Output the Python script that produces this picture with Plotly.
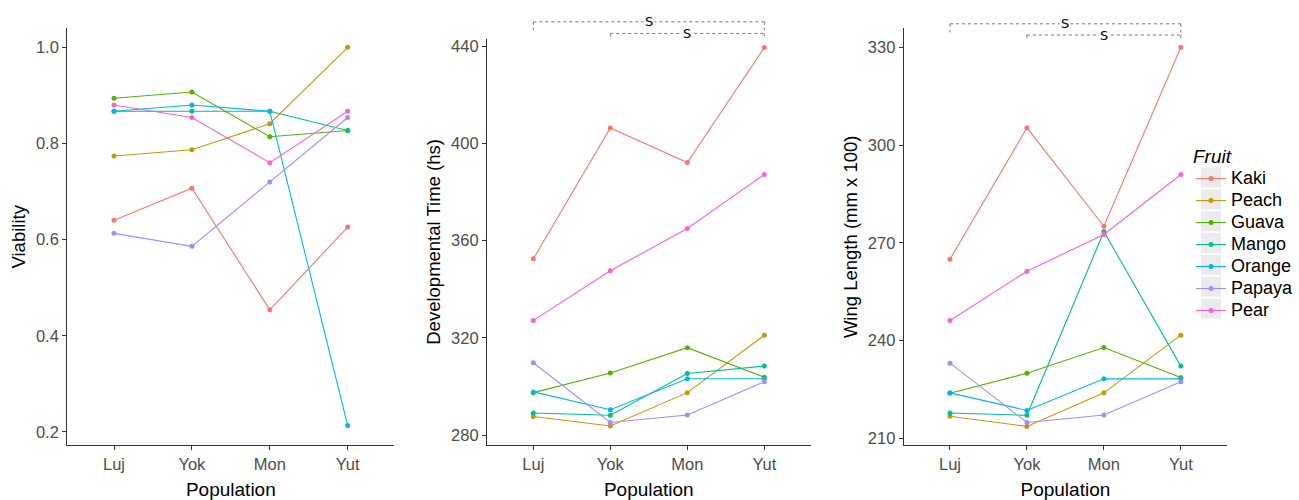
import plotly.graph_objects as go

populations = ["Luj", "Yok", "Mon", "Yut"]
fruits = ["Kaki", "Peach", "Guava", "Mango", "Orange", "Papaya", "Pear"]
colors = ["#F8766D", "#C49A00", "#53B400", "#00C094", "#00B6EB", "#A58AFF", "#FB61D7"]

viability = {
    "Kaki":   [0.640, 0.707, 0.454, 0.626],
    "Peach":  [0.774, 0.787, 0.841, 1.000],
    "Guava":  [0.894, 0.907, 0.814, 0.827],
    "Mango":  [0.867, 0.867, 0.867, 0.827],
    "Orange": [0.867, 0.880, 0.867, 0.213],
    "Papaya": [0.613, 0.586, 0.720, 0.854],
    "Pear":   [0.880, 0.854, 0.760, 0.867],
}
dev_time = {
    "Kaki":   [352.5, 406.3, 392.1, 439.4],
    "Peach":  [287.7, 283.8, 297.5, 321.1],
    "Guava":  [297.5, 305.6, 316.0, 303.8],
    "Mango":  [289.1, 288.2, 305.4, 308.4],
    "Orange": [297.8, 290.5, 303.2, 303.2],
    "Papaya": [309.8, 285.2, 288.3, 302.0],
    "Pear":   [327.2, 347.6, 365.0, 387.2],
}
wing_length = {
    "Kaki":   [265.0, 305.3, 275.1, 330.0],
    "Peach":  [216.8, 213.7, 224.0, 241.7],
    "Guava":  [223.9, 230.0, 237.9, 228.7],
    "Mango":  [217.8, 217.1, 273.5, 232.2],
    "Orange": [224.0, 218.6, 228.3, 228.3],
    "Papaya": [233.1, 214.9, 217.2, 227.4],
    "Pear":   [246.2, 261.3, 272.6, 291.0],
}
viab_ticks = [0.2, 0.4, 0.6, 0.8, 1.0]
dev_ticks = [280, 320, 360, 400, 440]
wing_ticks = [210, 240, 270, 300, 330]
comparisons = [("Luj", "Yut"), ("Yok", "Yut")]
sig_label = "S"

W, H = 1299, 500
FONT = "Liberation Sans, Arial, sans-serif"
LEG_ENTRY_PX = 18

fig = go.Figure()
panels = [
    (viability, "x", "y", "Viability"),
    (dev_time, "x2", "y2", "Developmental Time (hs)"),
    (wing_length, "x3", "y3", "Wing Length (mm x 100)"),
]
for pi, (data, xa, ya, _) in enumerate(panels):
    for f, c in zip(fruits, colors):
        fig.add_trace(go.Scatter(
            x=populations, y=data[f], mode="lines+markers",
            name=f'<span style="font-size:{LEG_ENTRY_PX}px">{f}</span>',
            hovertext=f, hoverinfo="x+y+text",
            line=dict(color=c, width=1.1), marker=dict(color=c, size=5),
            xaxis=xa, yaxis=ya, legendgroup=f, showlegend=(pi == 0),
        ))

def px_x(p):
    return p / W

def px_y(p):
    return 1 - p / H

# panel geometry in pixels
geo = [
    dict(x0=67.3, x1=394.4, top=26.7, rng=[0.1724, 1.0392], ticks=viab_ticks, fmt=".1f"),
    dict(x0=487.1, x1=810.5, top=37.0, rng=[275.92, 443.0], ticks=dev_ticks, fmt="d"),
    dict(x0=903.8, x1=1227.0, top=26.7, rng=[207.96, 335.78], ticks=wing_ticks, fmt="d"),
]
bottom = 446.7
axis_common = dict(showgrid=False, zeroline=False, showline=True, linecolor="#333333", linewidth=1.3,
                   ticks="outside", ticklen=4, tickcolor="#333333", tickwidth=1.1,
                   tickfont=dict(family=FONT, size=16.5, color="#4D4D4D"))
for i, (g, (_, xa, ya, ytitle)) in enumerate(zip(geo, panels)):
    sfx = "" if i == 0 else str(i + 1)
    fig.layout["xaxis" + sfx] = dict(
        domain=[px_x(g["x0"]), px_x(g["x1"])], anchor="y" + sfx,
        type="category", categoryorder="array", categoryarray=populations,
        range=[-0.6, 3.6],
        title=dict(text="Population", font=dict(family=FONT, size=19, color="#000000"), standoff=11),
        **axis_common)
    fig.layout["yaxis" + sfx] = dict(
        domain=[px_y(bottom), px_y(g["top"])], anchor="x" + sfx,
        range=g["rng"], tickvals=g["ticks"],
        ticktext=[(f"{t:.1f}" if g["fmt"] == ".1f" else str(t)) for t in g["ticks"]],
        title=dict(text=ytitle, font=dict(family=FONT, size=18.5, color="#000000"), standoff=5),
        **axis_common)

# significance brackets on panels 2 and 3 (y in pixels from top)
bracket_px = {
    "x2": [(20.0, 28.3), (31.7, 37.3)],
    "x3": [(22.0, 30.7), (33.3, 39.3)],
}
shapes = []
annotations = []
for xa, levels in bracket_px.items():
    for (a, b), (yl, yt) in zip(comparisons, levels):
        xa_i, xb_i = populations.index(a), populations.index(b)
        style = dict(color="#777777", width=1, dash="dot")
        shapes.append(dict(type="line", xref=xa, yref="paper", x0=xa_i, x1=xb_i,
                           y0=px_y(yl), y1=px_y(yl), line=style))
        for xi in (xa_i, xb_i):
            shapes.append(dict(type="line", xref=xa, yref="paper", x0=xi, x1=xi,
                               y0=px_y(yl), y1=px_y(yt), line=style))
        annotations.append(dict(xref=xa, yref="paper", x=(xa_i + xb_i) / 2, y=px_y(yl),
                                text=sig_label, showarrow=False, bgcolor="white",
                                font=dict(family="DejaVu Sans, sans-serif", size=13, color="#000000"),
                                borderpad=1, xanchor="center", yanchor="middle"))

# grey legend key backgrounds (behind the legend symbols)
leg_first = 177.0
leg_step = 22.0
key_cx = 1211.0
for k in range(len(fruits)):
    cy = leg_first + k * leg_step
    shapes.append(dict(type="rect", xref="paper", yref="paper", layer="below",
                       x0=px_x(key_cx - 10), x1=px_x(key_cx + 10), y0=px_y(cy - 10), y1=px_y(cy + 10),
                       fillcolor="#EBEBEB", line=dict(width=0)))

fig.update_layout(
    width=W, height=H, margin=dict(l=0, r=0, t=0, b=0),
    paper_bgcolor="white", plot_bgcolor="white",
    shapes=shapes, annotations=annotations,
    legend=dict(x=px_x(1191), y=px_y(137), xanchor="left", yanchor="top",
                bgcolor="rgba(0,0,0,0)", tracegroupgap=0, itemwidth=30,
                font=dict(family=FONT, size=14.6, color="#000000"),
                title=dict(text="Fruit", font=dict(family=FONT, size=19, color="#000000", style="italic"))),
    font=dict(family=FONT),
)

fig.write_html("out.html", config={"displayModeBar": False},
               post_script="document.body.style.margin='0';document.body.style.overflow='hidden';")
